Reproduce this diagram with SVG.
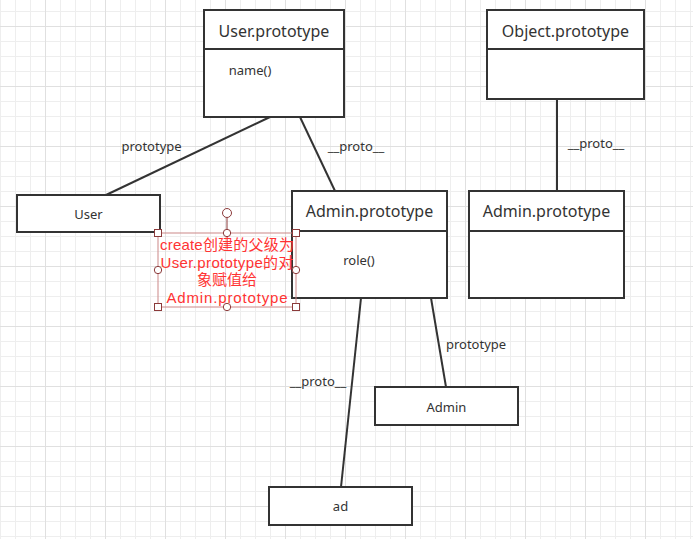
<svg xmlns="http://www.w3.org/2000/svg" width="693" height="539" viewBox="0 0 693 539">
<style>
.box{fill:#fff;stroke:#333;stroke-width:2}
.ln{stroke:#333;stroke-width:2;fill:none}
.t{font-family:"Noto Sans","Open Sans",sans-serif;fill:#333;text-anchor:middle}
.title{font-size:16px}
.s{font-size:13px}
.red{font-family:"Liberation Sans","Noto Sans CJK SC",sans-serif;font-size:15px;fill:#ff3333;text-anchor:middle}
.sel{fill:none;stroke:#c88;stroke-width:1}
.h{fill:#fff;stroke:#8b3a3a;stroke-width:1}
</style>
<defs>
<pattern id="grid" patternUnits="userSpaceOnUse" x="-15" y="26" width="60" height="60">
<rect width="60" height="60" fill="#fff"/>
<rect x="15" y="0" width="1" height="60" fill="#eeeeee"/>
<rect x="30" y="0" width="1" height="60" fill="#eeeeee"/>
<rect x="45" y="0" width="1" height="60" fill="#eeeeee"/>
<rect x="0" y="15" width="60" height="1" fill="#eeeeee"/>
<rect x="0" y="30" width="60" height="1" fill="#eeeeee"/>
<rect x="0" y="45" width="60" height="1" fill="#eeeeee"/>
<rect x="0" y="0" width="1" height="60" fill="#e0e0e0"/>
<rect x="0" y="0" width="60" height="1" fill="#e0e0e0"/>
</pattern>
</defs>
<rect width="693" height="539" fill="url(#grid)"/>

<g id="connectors">
<line class="ln" x1="270" y1="117" x2="106" y2="195"/>
<line class="ln" x1="300" y1="117" x2="335" y2="191"/>
<line class="ln" x1="557" y1="99" x2="557" y2="191"/>
<line class="ln" x1="361" y1="298" x2="341" y2="487"/>
<line class="ln" x1="431" y1="298" x2="446" y2="387"/>
<text class="t s" x="151.5" y="151">prototype</text>
<text class="t s" x="356" y="151">__proto__</text>
<text class="t s" x="596" y="148">__proto__</text>
<text class="t s" x="318" y="386">__proto__</text>
<text class="t s" x="476" y="349">prototype</text>
</g>

<g id="user-prototype">
<rect class="box" x="204" y="10" width="140" height="107"/>
<line class="ln" x1="204" y1="49" x2="344" y2="49"/>
<text class="t title" x="274" y="36.5">User.prototype</text>
<text class="t s" x="250" y="75">name()</text>
</g>

<g id="object-prototype">
<rect class="box" x="487" y="10" width="157" height="89"/>
<line class="ln" x1="487" y1="49" x2="644" y2="49"/>
<text class="t title" x="565.5" y="36.5">Object.prototype</text>
</g>

<g id="user">
<rect class="box" x="17" y="195" width="143" height="37"/>
<text class="t s" x="88.5" y="219">User</text>
</g>

<g id="admin-prototype-1">
<rect class="box" x="292" y="191" width="155" height="107"/>
<line class="ln" x1="292" y1="231" x2="447" y2="231"/>
<text class="t title" x="369.5" y="217">Admin.prototype</text>
<text class="t s" x="359" y="265">role()</text>
</g>

<g id="admin-prototype-2">
<rect class="box" x="469" y="191" width="155" height="107"/>
<line class="ln" x1="469" y1="231" x2="624" y2="231"/>
<text class="t title" x="546.5" y="217">Admin.prototype</text>
</g>

<g id="admin">
<rect class="box" x="375" y="387" width="143" height="38"/>
<text class="t s" x="446.5" y="411.5">Admin</text>
</g>

<g id="ad">
<rect class="box" x="269" y="487" width="143" height="38"/>
<text class="t s" x="340.5" y="510.5">ad</text>
</g>

<g id="note">
<rect class="sel" x="158" y="233" width="138" height="74"/>
<text class="red" x="227" y="250" textLength="134" lengthAdjust="spacing">create创建的父级为</text>
<text class="red" x="227" y="267.5" textLength="133" lengthAdjust="spacing">User.prototype的对</text>
<text class="red" x="227" y="285">象赋值给</text>
<text class="red" x="227" y="302.5" textLength="121" lengthAdjust="spacing">Admin.prototype</text>
<line x1="227" y1="217.5" x2="227" y2="229" stroke="#8b3a3a" stroke-width="1"/>
<circle class="h" cx="227" cy="213" r="4.5"/>
<rect class="h" x="154.5" y="229.5" width="7" height="7"/>
<rect class="h" x="292.5" y="229.5" width="7" height="7"/>
<rect class="h" x="154.5" y="303.5" width="7" height="7"/>
<rect class="h" x="292.5" y="303.5" width="7" height="7"/>
<circle class="h" cx="227" cy="233" r="3.7"/>
<circle class="h" cx="227" cy="307" r="3.7"/>
<circle class="h" cx="158" cy="270" r="3.7"/>
<circle class="h" cx="296" cy="270" r="3.7"/>
</g>
</svg>
